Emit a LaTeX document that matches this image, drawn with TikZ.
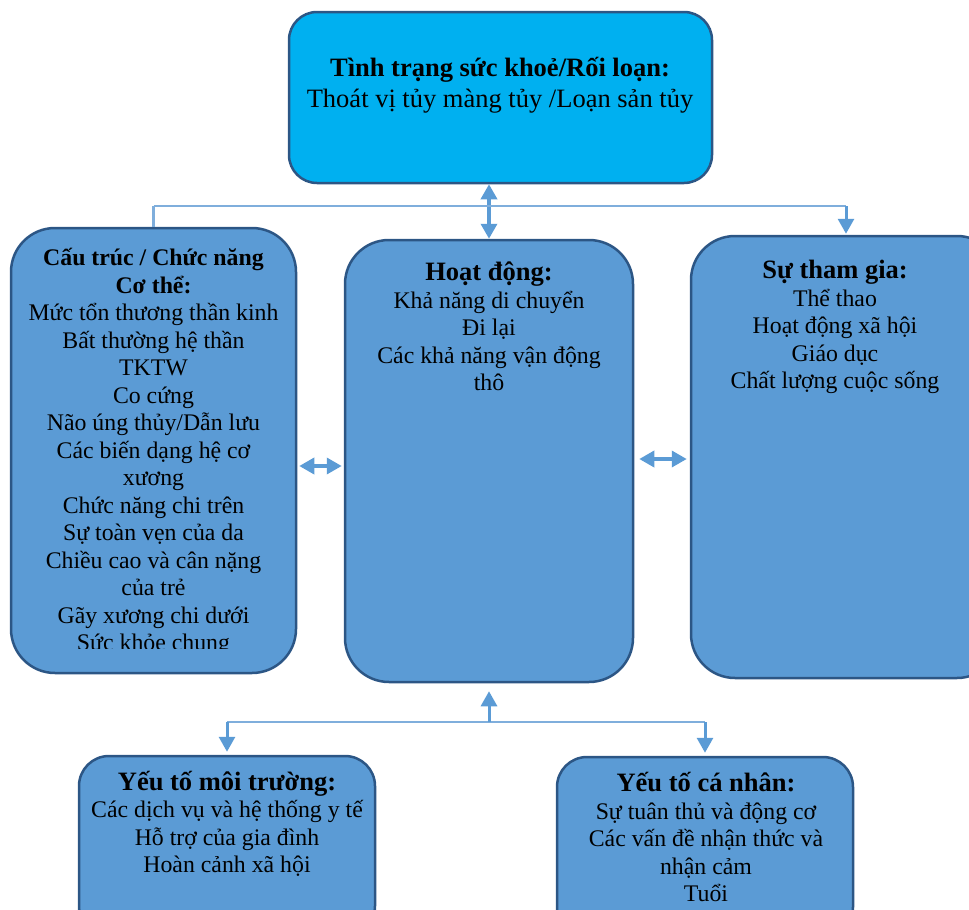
\documentclass[tikz,border=0pt]{standalone}
\usepackage{fontspec}
\setmainfont{Liberation Serif}
\usetikzlibrary{arrows.meta,positioning}
\definecolor{cyanfill}{HTML}{00B0F0}
\definecolor{boxfill}{HTML}{5B9BD5}
\definecolor{boxline}{HTML}{2C5685}
\definecolor{arrowblue}{HTML}{5B9BD5}
\definecolor{busblue}{HTML}{7FAEDC}
\newcommand{\boxhead}[1]{{\fontsize{26.5}{27.5}\selectfont\bfseries #1}}
\tikzset{
  box/.style={draw=boxline, line width=2.5pt, fill=boxfill, rounded corners=44pt},
  txt/.style={align=center, inner sep=0pt, anchor=base, font=\fontsize{23.8}{27.5}\selectfont},
  dblarrow/.style={draw=arrowblue, line width=3.5pt, >={Triangle[width=16pt,length=15pt]}, <->},
  droparrow/.style={draw=arrowblue, line width=3pt, -{Triangle[width=16pt,length=15pt]}},
  busline/.style={draw=busblue, line width=1.5pt}
}
\begin{document}
\begin{tikzpicture}[x=1pt,y=-1pt]
    \useasboundingbox (0,0) rectangle (969,910);
    %% Boxes
    \node[box, fill=cyanfill, rounded corners=28pt, minimum width=423, minimum height=171] (health) at (500.5,97.5) {};
    \node[box, minimum width=285, minimum height=445] (body) at (153.5,450.5) {};
    \node[box, minimum width=288, minimum height=442] (activity) at (489,461) {};
    \node[box, minimum width=310, minimum height=442] (participation) at (846,457) {};
    \node[box, rounded corners=30pt, minimum width=296, minimum height=180] (environment) at (227,846) {};
    \node[box, rounded corners=30pt, minimum width=296, minimum height=180] (personal) at (705,847) {};
    %% Texts (anchored at the baseline of the last line)
    \node[txt, font=\fontsize{26.5}{31}\selectfont] (healthtxt) at (500,107)
        {{\bfseries Tình trạng sức khoẻ/Rối loạn:}\\Thoát vị tủy màng tủy /Loạn sản tủy};
    \begin{scope}
        \clip (11,228) rectangle (296,648);
        \node[txt] (bodytxt) at (153.5,650.5)
            {{\bfseries Cấu trúc / Chức năng}\\{\bfseries Cơ thể:}\\Mức tổn thương thần kinh\\Bất thường hệ thần\\TKTW\\Co cứng\\Não úng thủy/Dẫn lưu\\Các biến dạng hệ cơ\\xương\\Chức năng chi trên\\Sự toàn vẹn của da\\Chiều cao và cân nặng\\của trẻ\\Gãy xương chi dưới\\Sức khỏe chung};
    \end{scope}
    \node[txt] (activitytxt) at (489,390.5)
        {\boxhead{Hoạt động:}\\Khả năng di chuyển\\Đi lại\\Các khả năng vận động\\thô};
    \node[txt] (participationtxt) at (835,388.5)
        {\boxhead{Sự tham gia:}\\Thể thao\\Hoạt động xã hội\\Giáo dục\\Chất lượng cuộc sống};
    \node[txt] (environmenttxt) at (227,872.5)
        {\boxhead{Yếu tố môi trường:}\\Các dịch vụ và hệ thống y tế\\Hỗ trợ của gia đình\\Hoàn cảnh xã hội};
    \node[txt] (personaltxt) at (706,901.5)
        {\boxhead{Yếu tố cá nhân:}\\Sự tuân thủ và động cơ\\Các vấn đề nhận thức và\\nhận cảm\\Tuổi};
    %% Connectors, top
    \coordinate (topbus) at (500,206);
    \draw[dblarrow] (activity.north |- health.south) -- (activity.north);
    \draw[busline] (body.north |- topbus) -- (participation.north |- topbus);
    \draw[busline, line width=2.5pt] (body.north |- topbus) -- (body.north);
    \draw[droparrow, shorten >=1pt] (participation.north |- topbus) -- (participation.north);
    %% Connectors, sides
    \draw[dblarrow, shorten <=2pt, shorten >=2pt] (body.east |- 0,466) -- (activity.west |- 0,466);
    \draw[dblarrow, shorten <=5pt, shorten >=3pt] (activity.east |- 0,459) -- (participation.west |- 0,459);
    %% Connectors, bottom
    \coordinate (botbus) at (489,722);
    \draw[busline] (environment.north |- botbus) -- (personal.north |- botbus);
    \draw[droparrow, shorten >=8pt] (botbus) -- (activity.south);
    \draw[droparrow, shorten >=3pt] (environment.north |- botbus) -- (environment.north);
    \draw[droparrow, shorten >=3pt] (personal.north |- botbus) -- (personal.north);
\end{tikzpicture}
\end{document}
